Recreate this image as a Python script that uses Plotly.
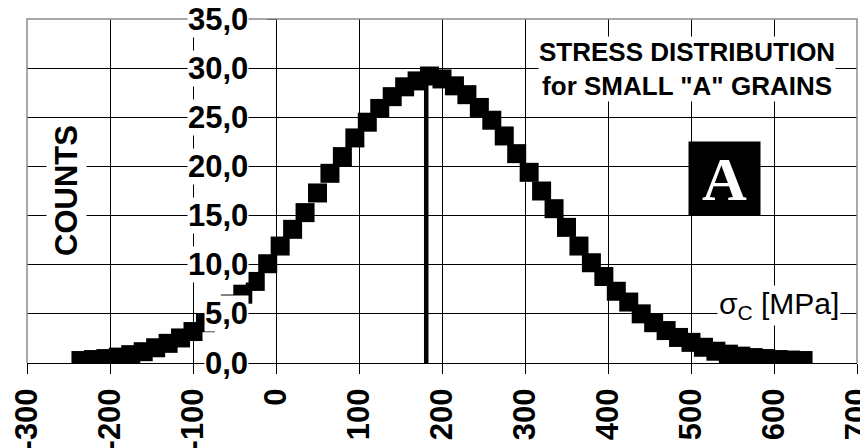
import plotly.graph_objects as go

# ---- data ----
stress_mpa = [-235, -220, -205, -190, -175, -160, -145, -130, -115, -100, -85, -70, -55,
              -40, -25, -10, 5, 20, 35, 50, 65, 80, 95, 110, 125, 140, 155, 170, 185,
              200, 215, 230, 245, 260, 275, 290, 305, 320, 335, 350, 365, 380, 395,
              410, 425, 440, 455, 470, 485, 500, 515, 530, 545, 560, 575, 590, 605,
              620, 635]
counts = [0.25, 0.35, 0.45, 0.6, 0.85, 1.15, 1.55, 2.0, 2.55, 3.2, 4.1, 5.0, 6.0,
          7.0, 8.3, 10.1, 11.9, 13.6, 15.3, 17.3, 19.3, 21.0, 22.9, 24.5, 25.9, 27.1,
          28.1, 28.7, 29.2, 28.9, 28.2, 27.3, 26.0, 24.7, 23.1, 21.3, 19.4, 17.5, 15.7,
          13.8, 11.9, 10.2, 8.8, 7.3, 6.2, 5.0, 4.1, 3.3, 2.6, 2.1, 1.6, 1.2, 0.9, 0.7,
          0.55, 0.45, 0.35, 0.3, 0.25]
peak_x = [181, 181]
peak_y = [0, 29.0]

x_tick_vals = [-300, -200, -100, 0, 100, 200, 300, 400, 500, 600, 700]
x_tick_text = ["-300", "-200", "-100", "0", "100", "200", "300", "400", "500", "600", "700"]
y_tick_vals = [0, 5, 10, 15, 20, 25, 30, 35]
y_tick_text = ["0,0", "5,0", "10,0", "15,0", "20,0", "25,0", "30,0", "35,0"]

title_lines = ["STRESS DISTRIBUTION", "for SMALL \"A\" GRAINS"]
y_title = "COUNTS"
x_title = "σ<sub>C</sub> [MPa]"
panel_letter = "A"

SANS = "Liberation Sans, Arial, sans-serif"
SERIF = "Liberation Serif, Times New Roman, serif"

fig = go.Figure()
fig.add_trace(go.Scatter(x=peak_x, y=peak_y, mode="lines",
                         line=dict(color="black", width=4.5),
                         showlegend=False, hoverinfo="skip"))
fig.add_trace(go.Scatter(x=stress_mpa, y=counts, mode="markers",
                         marker=dict(symbol="square", size=19, color="black",
                                     line=dict(width=0)),
                         showlegend=False))

# the page body adds an 8 px offset; margins compensate for it
fig.update_layout(
    width=868, height=448,
    margin=dict(l=19, r=19, t=11, b=93),
    paper_bgcolor="white", plot_bgcolor="white",
    font=dict(family=SANS, color="black"),
    showlegend=False,
)

fig.update_xaxes(
    range=[-300, 700], tickvals=x_tick_vals, ticktext=x_tick_text,
    tickangle=-90, tickfont=dict(family=SANS, size=31, color="black", weight="bold"),
    ticks="outside", ticklen=10, tickcolor="black", tickwidth=1,
    ticklabelstandoff=2,
    showgrid=True, gridcolor="black", gridwidth=1,
    showline=True, linecolor="black", linewidth=1,
    zeroline=False, automargin=False,
)
fig.update_yaxes(
    range=[0, 35], tickvals=y_tick_vals, showticklabels=False,
    anchor="free", position=0.3,
    ticks="outside", ticklen=9, tickcolor="black", tickwidth=1,
    showgrid=True, gridcolor="black", gridwidth=1,
    showline=True, linecolor="black", linewidth=1,
    zeroline=False, automargin=False,
)

# gray frame (left, top, right)
fig.add_shape(type="path", xref="paper", yref="paper",
              path="M 0 0 L 0 1 L 1 1 L 1 0",
              line=dict(color="#8c8c8c", width=1.5), layer="above")

annotations = []
for v, t in zip(y_tick_vals, y_tick_text):
    annotations.append(dict(x=0, y=v, xref="x", yref="y", text="<b>" + t + "</b>",
                            showarrow=False, xanchor="right", yanchor="middle",
                            xshift=-27, bgcolor="white", borderpad=0,
                            font=dict(family=SANS, size=31, color="black")))
annotations.append(dict(x=-253, y=17.5, xref="x", yref="y", text="<b>" + y_title + "</b>",
                        textangle=-90, showarrow=False, bgcolor="white", borderpad=2,
                        font=dict(family=SANS, size=31, color="black")))
annotations.append(dict(x=495, y=29.95, xref="x", yref="y",
                        text="<br>".join("<b>" + s + "</b>" for s in title_lines),
                        showarrow=False, bgcolor="white", borderpad=0, align="center",
                        font=dict(family=SANS, size=26, color="black")))
annotations.append(dict(x=606, y=5.8, xref="x", yref="y", text=x_title,
                        showarrow=False, bgcolor="white", borderpad=1,
                        font=dict(family=SANS, size=30, color="black")))
annotations.append(dict(x=540, y=18.8, xref="x", yref="y", text="<b>" + panel_letter + "</b>",
                        showarrow=False, bgcolor="black", width=71, height=73, borderpad=0,
                        font=dict(family=SERIF, size=62, color="white")))
fig.update_layout(annotations=annotations)

fig.write_html("out.html")
